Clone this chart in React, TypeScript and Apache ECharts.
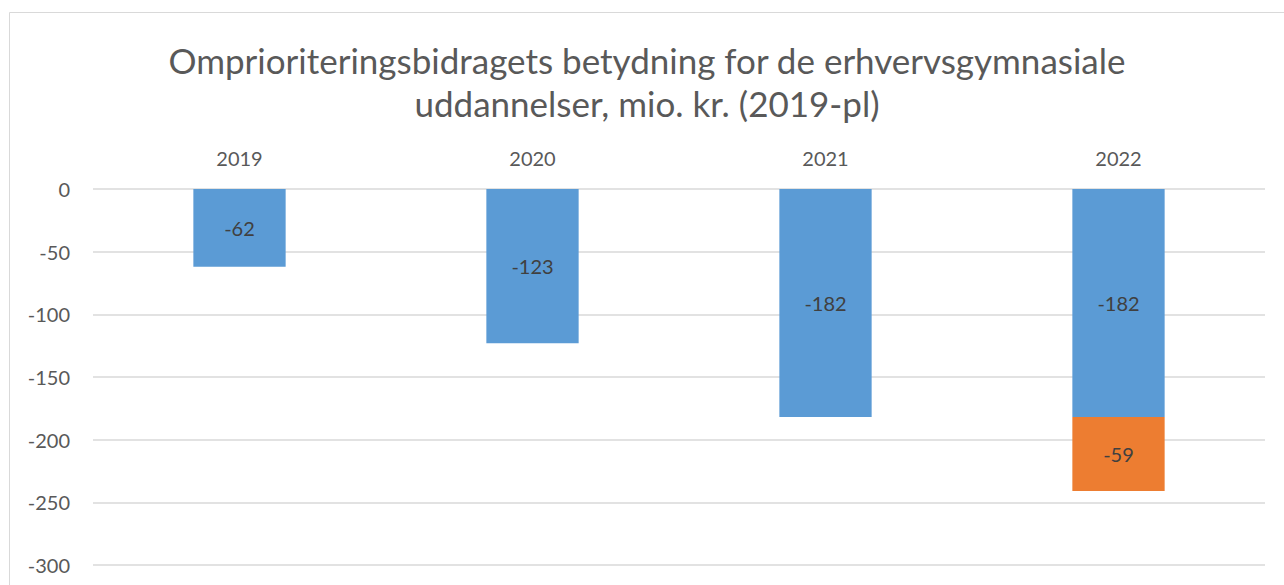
import React, { useEffect, useRef } from "react";
import * as echarts from "echarts";

const categories = ["2019", "2020", "2021", "2022"];
const blueValues = [-62, -123, -182, -182];
const orangeValues: (number | null)[] = [null, null, null, -59];
const yTicks = { min: -300, max: 0, interval: 50 };
const titleText = "Omprioriteringsbidragets betydning for de erhvervsgymnasiale\nuddannelser, mio. kr. (2019-pl)";

export default function App() {
  const ref = useRef<HTMLDivElement>(null);
  useEffect(() => {
    const chart = echarts.init(ref.current!, undefined, { renderer: "svg" });
    const font = "Lato, 'Open Sans', sans-serif";
    chart.setOption({
      animation: false,
      backgroundColor: "#fff",
      textStyle: { fontFamily: font },
      graphic: [
        {
          type: "rect",
          shape: { x: 9.5, y: 12.5, width: 1400, height: 700 },
          style: { fill: "none", stroke: "#d9d9d9", lineWidth: 1 },
          silent: true,
        },
      ],
      title: {
        text: titleText,
        left: 642,
        top: 33,
        textAlign: "center",
        textStyle: {
          fontFamily: font,
          fontSize: 35,
          fontWeight: "normal",
          color: "#595959",
          lineHeight: 43,
        },
      },
      grid: { left: 93, right: 19, top: 189, bottom: 20 },
      xAxis: {
        type: "category",
        data: categories,
        position: "top",
        axisLine: { show: false },
        axisTick: { show: false },
        axisLabel: { fontSize: 20, color: "#595959", margin: 21, fontFamily: font },
      },
      yAxis: {
        type: "value",
        min: yTicks.min,
        max: yTicks.max,
        interval: yTicks.interval,
        axisLine: { show: false },
        axisTick: { show: false },
        axisLabel: { fontSize: 20, color: "#595959", margin: 23, fontFamily: font },
        splitLine: { lineStyle: { color: "#d9d9d9", width: 1.5 } },
      },
      series: [
        {
          type: "bar",
          stack: "total",
          data: blueValues,
          barWidth: "31.5%",
          itemStyle: { color: "#5b9bd5" },
          label: { show: true, position: "inside", fontSize: 20, color: "#404040", fontFamily: font },
        },
        {
          type: "bar",
          stack: "total",
          data: orangeValues,
          barWidth: "31.5%",
          itemStyle: { color: "#ed7d31" },
          label: { show: true, position: "inside", fontSize: 20, color: "#404040", fontFamily: font },
        },
      ],
    });
    return () => chart.dispose();
  }, []);
  return (
    <div
      ref={ref}
      style={{ position: "fixed", left: 0, top: 0, width: 1284, height: 585 }}
    />
  );
}
